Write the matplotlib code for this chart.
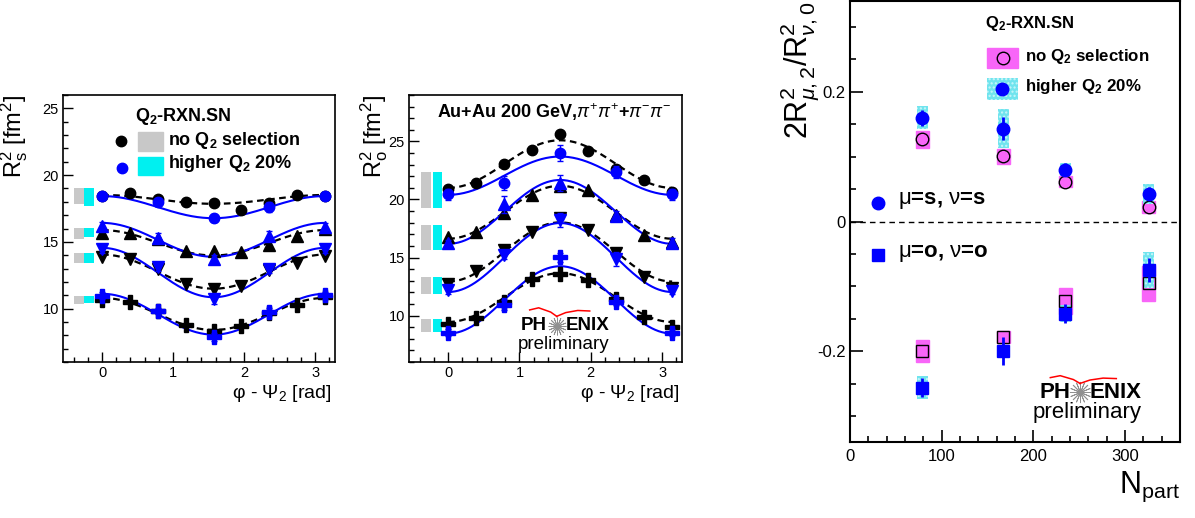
import numpy as np
import matplotlib
matplotlib.use("Agg")
import matplotlib.pyplot as plt
from matplotlib.patches import Rectangle
from matplotlib.ticker import MultipleLocator

plt.rcParams['font.family'] = ['Liberation Sans', 'DejaVu Sans']
plt.rcParams['mathtext.fontset'] = 'custom'
plt.rcParams['mathtext.rm'] = 'Liberation Sans'
plt.rcParams['mathtext.it'] = 'Liberation Sans:italic'
plt.rcParams['mathtext.bf'] = 'Liberation Sans:bold'
plt.rcParams['axes.unicode_minus'] = False

# ---- azimuthal bins ----
phi = [0.0, 0.393, 0.785, 1.178, 1.571, 1.963, 2.356, 2.749, 3.142]
phi_hq = [0.0, 0.785, 1.571, 2.356, 3.142]

# ---- R_s^2 (left panel); order: circle, up-tri, down-tri, cross (centralities) ----
rs_all = [[18.43, 18.68, 18.2, 18.0, 17.9, 17.38, 17.93, 18.48, 18.4],
          [15.68, 15.63, 15.2, 14.3, 14.35, 14.23, 14.73, 15.43, 15.95],
          [13.85, 13.73, 12.95, 11.85, 11.48, 11.68, 12.9, 13.43, 13.95],
          [10.63, 10.5, 9.8, 8.8, 8.3, 8.68, 9.7, 10.3, 10.9]]
rs_hq = [[18.43, 17.95, 16.8, 17.6, 18.43],
         [16.18, 15.3, 13.68, 15.43, 16.1],
         [14.43, 13.1, 10.73, 13.0, 14.43],
         [10.98, 9.82, 7.85, 9.75, 11.0]]
rs_hq_err = [[0.3, 0.3, 0.3, 0.35, 0.3],
             [0.3, 0.35, 0.3, 0.4, 0.3],
             [0.3, 0.3, 0.35, 0.35, 0.3],
             [0.25, 0.25, 0.3, 0.3, 0.25]]
# fit: R0 + A cos(2 phi)
rs_fit_all = [(18.18, 0.33), (14.93, 0.95), (12.77, 1.28), (9.6, 1.2)]
rs_fit_hq = [(17.6, 0.83), (15.15, 1.27), (12.7, 1.85), (9.58, 1.53)]
rs_sys_all = [(17.85, 19.05), (15.25, 16.05), (13.43, 14.13), (10.33, 10.98)]
rs_sys_hq = [(17.72, 19.05), (15.35, 16.05), (13.43, 14.13), (10.43, 10.98)]

# ---- R_o^2 (middle panel) ----
ro_all = [[20.92, 21.45, 23.03, 24.28, 25.66, 24.16, 22.66, 21.65, 20.65],
          [16.76, 17.17, 18.84, 20.35, 21.16, 20.81, 18.7, 16.97, 16.3],
          [12.72, 13.84, 15.61, 17.17, 18.4, 17.4, 15.38, 13.29, 12.4],
          [9.25, 9.83, 11.18, 13.12, 13.58, 13.06, 11.39, 9.88, 9.0]]
ro_hq = [[20.43, 21.39, 23.99, 22.37, 20.43],
         [16.24, 19.57, 21.45, 18.61, 16.24],
         [12.2, 15.23, 18.27, 14.86, 12.14],
         [8.53, 10.9, 15.03, 11.18, 8.53]]
ro_hq_err = [[0.5, 0.6, 0.7, 0.5, 0.5],
             [0.3, 0.7, 0.7, 0.4, 0.4],
             [0.3, 0.4, 0.6, 0.6, 0.3],
             [0.3, 0.4, 0.4, 0.3, 0.3]]
ro_fit_all = [(23.05, -2.05), (18.9, -2.28), (15.48, -2.55), (11.55, -2.1)]
ro_fit_hq = [(22.05, -1.65), (18.93, -2.75), (15.0, -2.97), (11.35, -2.9)]
ro_sys_all = [(19.3, 22.37), (15.66, 17.83), (11.85, 13.35), (8.58, 9.74)]
ro_sys_hq = [(19.3, 22.37), (15.66, 17.83), (11.85, 13.35), (8.58, 9.74)]

# ---- relative amplitudes vs Npart (right panel) ----
npart = [79, 167, 235, 326]
ss_all = [0.127, 0.1005, 0.0615, 0.022]
ss_hq = [0.160, 0.143, 0.080, 0.0426]
oo_all = [-0.1995, -0.178, -0.123, -0.095]
oo_hq = [-0.256, -0.200, -0.142, -0.075]
ss_all_sys = [0.013, 0.012, 0.009, 0.009]
ss_hq_sys = [0.018, 0.03, 0.01, 0.015]
oo_all_sys = [0.017, 0.009, 0.02, 0.027]
oo_hq_sys = [0.018, 0.008, 0.013, 0.028]
ss_hq_err = [0.012, 0.018, 0.01, 0.01]
oo_hq_err = [0.015, 0.022, 0.015, 0.018]

W, H = 1195, 518
fig = plt.figure(figsize=(W / 100, H / 100), dpi=100)
ax1 = fig.add_axes([63 / W, 156 / H, 272 / W, 267 / H])
ax2 = fig.add_axes([409 / W, 156 / H, 273 / W, 267 / H])
ax3 = fig.add_axes([850 / W, 76 / H, 330 / W, 441 / H])

markers = ['o', '^', 'v', 'P']
msizes = [7.5, 8, 8, 9.5]
phi_fit = np.linspace(0, np.pi, 200)


def phi_panel(ax, vals, hq, hq_err, fit_all, fit_hq, sys_all, sys_hq, gbox, cbox):
    for i in range(4):
        ax.bar(gbox[0], sys_all[i][1] - sys_all[i][0], bottom=sys_all[i][0],
               width=gbox[1], color='#c8c8c8', zorder=1)
        ax.bar(cbox[0], sys_hq[i][1] - sys_hq[i][0], bottom=sys_hq[i][0],
               width=cbox[1], color='#00f0f0', zorder=1)
        ax.plot(phi_fit, fit_all[i][0] + fit_all[i][1] * np.cos(2 * phi_fit),
                ls=(0, (3, 2)), color='black', lw=1.6, zorder=2)
        ax.plot(phi_fit, fit_hq[i][0] + fit_hq[i][1] * np.cos(2 * phi_fit),
                color='blue', lw=1.5, zorder=2)
        ax.plot(phi, vals[i], markers[i], color='black', ms=msizes[i], zorder=3)
        ax.errorbar(phi_hq, hq[i], yerr=hq_err[i], fmt=markers[i], color='blue',
                    ms=msizes[i], capsize=2, elinewidth=1, zorder=4)
    ax.set_xlim(-0.55, 3.28)
    ax.set_xticks([0, 1, 2, 3])
    ax.xaxis.set_minor_locator(MultipleLocator(0.2))
    ax.yaxis.set_minor_locator(MultipleLocator(1))
    ax.tick_params(which='both', direction='in', top=False, right=False, labelsize=10.5)
    ax.tick_params(which='major', length=7, width=1)
    ax.tick_params(which='minor', length=3.5, width=1)
    ax.tick_params(axis='x', pad=3)
    ax.tick_params(axis='y', pad=3)
    for s in ax.spines.values():
        s.set_linewidth(1.2)


phi_panel(ax1, rs_all, rs_hq, rs_hq_err, rs_fit_all, rs_fit_hq, rs_sys_all, rs_sys_hq,
          (-0.32, 0.14), (-0.18, 0.14))
ax1.set_ylim(6, 26)
ax1.set_yticks([10, 15, 20, 25])

phi_panel(ax2, ro_all, ro_hq, ro_hq_err, ro_fit_all, ro_fit_hq, ro_sys_all, ro_sys_hq,
          (-0.31, 0.14), (-0.155, 0.13))
ax2.set_ylim(6, 29)
ax2.set_yticks([10, 15, 20, 25])

# axis titles (ROOT style, aligned to the end of the axis)
fig.text(14 / W, 1 - 95 / H, r'R$^{2}_{\rm s}$ [fm$^{2}$]', rotation=90, ha='center', va='top', fontsize=17)
fig.text(374 / W, 1 - 95 / H, r'R$^{2}_{\rm o}$ [fm$^{2}$]', rotation=90, ha='center', va='top', fontsize=17)
fig.text(332 / W, 1 - 394 / H, r'φ - Ψ$_{2}$ [rad]', ha='right', va='center', fontsize=14)
fig.text(680 / W, 1 - 394 / H, r'φ - Ψ$_{2}$ [rad]', ha='right', va='center', fontsize=14)

# left legend
t1 = ax1.transAxes
ax1.text(0.265, 0.918, r'Q$_\mathbf{2}$-RXN.SN', transform=t1, fontsize=13, fontweight='bold', va='center')
ax1.add_patch(Rectangle((0.275, 0.791), 0.092, 0.072, transform=t1, color='#c8c8c8'))
ax1.add_patch(Rectangle((0.275, 0.700), 0.092, 0.068, transform=t1, color='#00f0f0'))
ax1.plot([0.212], [0.828], 'o', color='black', ms=7.5, transform=t1)
ax1.plot([0.216], [0.725], 'o', color='blue', ms=7.5, transform=t1)
ax1.text(0.385, 0.831, r'no Q$_\mathbf{2}$ selection', transform=t1, fontsize=13, fontweight='bold', va='center')
ax1.text(0.385, 0.742, r'higher Q$_\mathbf{2}$ 20%', transform=t1, fontsize=13, fontweight='bold', va='center')

# middle title
ax2.text(0.101, 0.937, r'Au+Au 200 GeV,$\pi^{+}\pi^{+}$+$\pi^{-}\pi^{-}$', transform=ax2.transAxes,
         fontsize=13, fontweight='bold', va='center')


def phenix(ax, cx, cy, fs, pw, ph, arc_w, arc_h):
    t = ax.transAxes
    ax.text(cx - 0.035 * pw, cy, 'PH', transform=t, ha='right', va='center', fontsize=fs, fontweight='bold')
    ax.text(cx + 0.035 * pw, cy, 'ENIX', transform=t, ha='left', va='center', fontsize=fs, fontweight='bold')
    ax.plot([cx], [cy], marker=(16, 2, 0), ms=fs * 0.95, mew=0.6, color='#909090', transform=t)
    ax.text(cx + 0.025 * pw, cy - 0.075 * ph, 'preliminary', transform=t, ha='center', va='center',
            fontsize=fs * 1.0)
    ax.plot([cx - 0.45 * arc_w, cx - 0.3 * arc_w, cx - 0.1 * arc_w, cx],
            [cy + 1.5 * arc_h, cy + 1.7 * arc_h, cy + 1.3 * arc_h, cy + 0.9 * arc_h],
            color='red', lw=1.1, transform=t)
    ax.plot([cx, cx + 0.15 * arc_w, cx + 0.35 * arc_w, cx + 0.55 * arc_w],
            [cy + 0.9 * arc_h, cy + 1.25 * arc_h, cy + 1.45 * arc_h, cy + 1.4 * arc_h],
            color='red', lw=1.1, transform=t)


phenix(ax2, 0.541, 0.135, 13.5, 1.0, 0.95, 0.22, 0.04)

# right panel
ax3.axhline(0, color='black', ls=(0, (4, 3)), lw=1)
bw = 14
for x, y, s in zip(npart, ss_all, ss_all_sys):
    ax3.add_patch(Rectangle((x - bw / 2, y - s), bw, 2 * s, color='#f865f8', zorder=1))
for x, y, s in zip(npart, oo_all, oo_all_sys):
    ax3.add_patch(Rectangle((x - bw / 2, y - s), bw, 2 * s, color='#f865f8', zorder=1))
for x, y, s in zip(npart, ss_hq, ss_hq_sys):
    ax3.add_patch(Rectangle((x - 6, y - s), 12, 2 * s, facecolor='#70e4ee', edgecolor='#c8f6fa',
                            hatch='....', lw=0, zorder=2))
for x, y, s in zip(npart, oo_hq, oo_hq_sys):
    ax3.add_patch(Rectangle((x - 6, y - s), 12, 2 * s, facecolor='#70e4ee', edgecolor='#c8f6fa',
                            hatch='....', lw=0, zorder=2))
ax3.plot(npart, ss_all, 'o', mfc='none', mec='black', ms=9, mew=1, zorder=3)
ax3.plot(npart, oo_all, 's', mfc='none', mec='black', ms=9, mew=1, zorder=3)
ax3.errorbar(npart, ss_hq, yerr=ss_hq_err, fmt='o', color='blue', ms=9, elinewidth=2, zorder=4)
ax3.errorbar(npart, oo_hq, yerr=oo_hq_err, fmt='s', color='blue', ms=9, elinewidth=2, zorder=4)
ax3.set_xlim(0, 360)
ax3.set_ylim(-0.34, 0.34)
ax3.set_xticks([0, 100, 200, 300])
ax3.set_yticks([-0.2, 0, 0.2])
ax3.set_yticklabels(['-0.2', '0', '0.2'])
ax3.xaxis.set_minor_locator(MultipleLocator(20))
ax3.yaxis.set_minor_locator(MultipleLocator(0.05))
ax3.tick_params(which='both', direction='in', top=False, right=False, labelsize=12)
ax3.tick_params(which='major', length=9, width=1.2)
ax3.tick_params(which='minor', length=4.5, width=1.2)
ax3.tick_params(axis='x', pad=5)
ax3.tick_params(axis='y', pad=3)
for s in ax3.spines.values():
    s.set_linewidth(1.5)

fig.text(800 / W, 1 - 2 / H, r'2R$^{2}_{\mu,2}$/R$^{2}_{\nu,0}$', rotation=90, ha='center', va='top', fontsize=22)
fig.text(1180 / W, 1 - 487 / H, r'N$_{\rm part}$', ha='right', va='center', fontsize=22)

t3 = ax3.transAxes
ax3.text(0.409, 0.948, r'Q$_\mathbf{2}$-RXN.SN', transform=t3, fontsize=12, fontweight='bold', va='center')
ax3.add_patch(Rectangle((0.415, 0.848), 0.094, 0.045, transform=t3, color='#f865f8'))
ax3.add_patch(Rectangle((0.415, 0.776), 0.094, 0.049, transform=t3, facecolor='#70e4ee',
                        edgecolor='#c8f6fa', hatch='....', lw=0))
ax3.plot([0.464], [0.871], 'o', mfc='none', mec='black', ms=9, transform=t3)
ax3.plot([0.461], [0.800], 'o', color='blue', ms=9, transform=t3)
ax3.text(0.53, 0.875, r'no Q$_\mathbf{2}$ selection', transform=t3, fontsize=12.2, fontweight='bold', va='center')
ax3.text(0.53, 0.805, r'higher Q$_\mathbf{2}$ 20%', transform=t3, fontsize=12.2, fontweight='bold', va='center')
ax3.plot([0.086], [0.543], 'o', color='blue', ms=9, transform=t3)
ax3.plot([0.086], [0.424], 's', color='blue', ms=9, transform=t3)
ax3.text(0.145, 0.547, r'$\mathrm{\mu}$=s, $\mathrm{\nu}$=s', transform=t3, fontsize=16, fontweight='bold', va='center')
ax3.text(0.145, 0.427, r'$\mathrm{\mu}$=o, $\mathrm{\nu}$=o', transform=t3, fontsize=16, fontweight='bold', va='center')

phenix(ax3, 0.697, 0.113, 16, 0.85, 0.6, 0.2, 0.022)

fig.savefig('out.png', dpi=100)
